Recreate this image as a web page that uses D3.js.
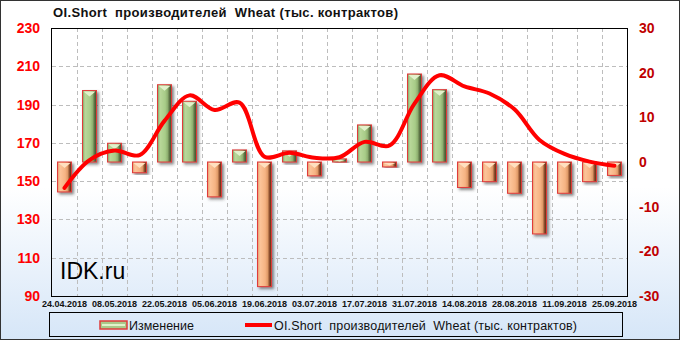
<!DOCTYPE html>
<html>
<head>
<meta charset="utf-8">
<script src="https://cdn.jsdelivr.net/npm/d3@7"></script>
<style>
  body { margin: 0; background: #fff; }
  text { white-space: pre; }
</style>
</head>
<body>
<div id="chart"></div>
<script>
// weekly dates, every other one gets a tick label
const dates = ['24.04.2018', '01.05.2018', '08.05.2018', '15.05.2018', '22.05.2018', '29.05.2018',
  '05.06.2018', '12.06.2018', '19.06.2018', '26.06.2018', '03.07.2018', '10.07.2018', '17.07.2018',
  '24.07.2018', '31.07.2018', '07.08.2018', '14.08.2018', '21.08.2018', '28.08.2018', '04.09.2018',
  '11.09.2018', '18.09.2018', '25.09.2018'];

// OI.Short producers, thousands of contracts (left axis)
const oiShort = [146.5, 161, 166, 163.6, 181.5, 194.8, 187.2, 191, 162.8, 164.8, 162.2, 162.5,
  170.5, 168.6, 190.5, 205.3, 199.5, 195.8, 187.5, 171.5, 164.2, 160.2, 158];

// weekly change (right axis)
const change = [-6.7, 16.0, 4.2, -2.4, 17.3, 13.6, -7.8, 2.7, -27.9, 2.5, -3.1, 0.7,
  8.3, -1.1, 19.7, 16.2, -5.7, -4.4, -7.0, -16.1, -7.0, -4.4, -3.0];

const leftTicks = [90, 110, 130, 150, 170, 190, 210, 230];
const rightTicks = [-30, -20, -10, 0, 10, 20, 30];

const title = 'OI.Short  производителей  Wheat (тыс. контрактов)';
const W = 681, H = 341;
const plot = {left: 52, right: 627, top: 28, bottom: 296};

const svg = d3.select('#chart').append('svg')
  .attr('width', W).attr('height', H);

const defs = svg.append('defs');

const bg = defs.append('linearGradient').attr('id', 'bg')
  .attr('x1', 0).attr('y1', 0).attr('x2', 0).attr('y2', 1);
bg.append('stop').attr('offset', '0%').attr('stop-color', '#ffffff');
bg.append('stop').attr('offset', '55%').attr('stop-color', '#ffffff');
bg.append('stop').attr('offset', '100%').attr('stop-color', '#d6e6f8');

function barGradient(id, stops) {
  const g = defs.append('linearGradient').attr('id', id)
    .attr('x1', 0).attr('y1', 0).attr('x2', 1).attr('y2', 0);
  stops.forEach(s => g.append('stop').attr('offset', s[0]).attr('stop-color', s[1]));
}
barGradient('gGreen', [['0%', '#7f9f5f'], ['18%', '#b9d89a'], ['55%', '#a8cc88'], ['72%', '#8fb070'], ['85%', '#5e7446'], ['100%', '#3a4a28']]);
barGradient('gOrange', [['0%', '#e39a68'], ['18%', '#fcc49a'], ['55%', '#f6b383'], ['72%', '#e09a68'], ['85%', '#8e5030'], ['100%', '#52260f']]);

const shadow = defs.append('filter').attr('id', 'shadow')
  .attr('x', '-50%').attr('y', '-20%').attr('width', '200%').attr('height', '140%');
shadow.append('feDropShadow').attr('dx', 2).attr('dy', 2).attr('stdDeviation', 1.8)
  .attr('flood-color', '#333').attr('flood-opacity', 0.6);

svg.append('rect').attr('x', 0.5).attr('y', 0.5).attr('width', 679).attr('height', 339)
  .attr('fill', 'url(#bg)').attr('stroke', '#333').attr('stroke-width', 1);

const x = d3.scaleBand().domain(dates)
  .range([plot.left, plot.right]).paddingInner(0.44).paddingOuter(0.22);
const yLeft = d3.scaleLinear().domain([90, 230]).range([plot.bottom, plot.top]);
const yRight = d3.scaleLinear().domain([-30, 30]).range([plot.bottom, plot.top]);

// grid
const grid = svg.append('g').attr('stroke', '#bdbdbd').attr('stroke-dasharray', '4,3');
grid.selectAll('line.h').data(leftTicks.slice(1, -1)).join('line')
  .attr('x1', plot.left).attr('x2', plot.right)
  .attr('y1', d => Math.round(yLeft(d)) + 0.5).attr('y2', d => Math.round(yLeft(d)) + 0.5);
grid.selectAll('line.v').data(dates.slice(1)).join('line')
  .attr('y1', plot.top).attr('y2', plot.bottom)
  .attr('x1', d => Math.round(x(d) + x.bandwidth() / 2 - x.step() / 2) + 0.5)
  .attr('x2', d => Math.round(x(d) + x.bandwidth() / 2 - x.step() / 2) + 0.5);

// bars
const bars = svg.append('g');
dates.forEach((d, i) => {
  const v = change[i];
  const bx = x(d), bw = x.bandwidth();
  const y0 = yRight(0), y1 = yRight(v);
  const top = Math.min(y0, y1), h = Math.abs(y1 - y0);
  const g = bars.append('g');
  g.append('rect').attr('x', bx).attr('y', top).attr('width', bw).attr('height', Math.max(h, 1))
    .attr('fill', v >= 0 ? 'url(#gGreen)' : 'url(#gOrange)')
    .attr('stroke', '#e03a3a').attr('stroke-width', 1)
    .attr('filter', 'url(#shadow)');
  // small bevel at the top
  const bh = Math.min(5, h / 2);
  g.append('path')
    .attr('d', `M${bx + 1},${top + 1}L${bx + bw - 1},${top + 1}L${bx + bw / 2},${top + 1 + bh}Z`)
    .attr('fill', v >= 0 ? '#e2f2cc' : '#ffe0c0');
});

// line
const line = d3.line()
  .x((d, i) => x(dates[i]) + x.bandwidth() / 2)
  .y(d => yLeft(d))
  .curve(d3.curveCatmullRom.alpha(0.5));
svg.append('path').datum(oiShort).attr('d', line)
  .attr('fill', 'none').attr('stroke', '#ff0000').attr('stroke-width', 4)
  .attr('stroke-linejoin', 'round').attr('stroke-linecap', 'round');

// plot frame
svg.append('rect').attr('x', plot.left - 0.5).attr('y', plot.top + 0.5)
  .attr('width', plot.right - plot.left + 1).attr('height', plot.bottom - plot.top)
  .attr('fill', 'none').attr('stroke', '#000').attr('stroke-width', 1);

// axes labels
svg.append('g').selectAll('text').data(leftTicks).join('text')
  .attr('x', 40).attr('y', d => yLeft(d) + 5)
  .attr('text-anchor', 'end')
  .attr('font-family', 'Liberation Sans, Arial, sans-serif').attr('font-weight', 'bold')
  .attr('font-size', 14).attr('fill', '#ff0000')
  .text(d => d);

svg.append('g').selectAll('text').data(rightTicks).join('text')
  .attr('x', 639).attr('y', d => yRight(d) + 5)
  .attr('font-family', 'Liberation Sans, Arial, sans-serif').attr('font-weight', 'bold')
  .attr('font-size', 14).attr('fill', '#c00000')
  .text(d => d);

svg.append('g').selectAll('text').data(dates.filter((d, i) => i % 2 === 0)).join('text')
  .attr('x', d => x(d) + x.bandwidth() / 2).attr('y', 307)
  .attr('text-anchor', 'middle')
  .attr('font-family', 'Liberation Sans, Arial, sans-serif').attr('font-weight', 'bold')
  .attr('font-size', 9).attr('fill', '#111')
  .text(d => d);

// title
svg.append('text').attr('x', 53).attr('y', 17)
  .attr('font-family', 'Liberation Sans, Arial, sans-serif').attr('font-weight', 'bold')
  .attr('font-size', 13).attr('fill', '#111')
  .attr('textLength', 345).attr('lengthAdjust', 'spacing')
  .text(title);

// watermark
svg.append('text').attr('x', 60).attr('y', 279)
  .attr('font-family', 'Liberation Sans, Arial, sans-serif')
  .attr('font-size', 23).attr('fill', '#000')
  .text('IDK.ru');

// legend
const legend = svg.append('g');
legend.append('rect').attr('x', 49.5).attr('y', 312.5).attr('width', 573).attr('height', 24)
  .attr('fill', 'none').attr('stroke', '#000');
legend.append('rect').attr('x', 100).attr('y', 321).attr('width', 27).attr('height', 8)
  .attr('fill', '#a9c98a').attr('stroke', '#e03a3a').attr('stroke-width', 1.5);
legend.append('rect').attr('x', 102).attr('y', 324).attr('width', 23).attr('height', 2)
  .attr('fill', '#e2f2cc');
legend.append('text').attr('x', 129).attr('y', 329.5)
  .attr('font-family', 'Liberation Sans, Arial, sans-serif').attr('font-size', 12.5).attr('fill', '#111')
  .text('Изменение');
legend.append('line').attr('x1', 245).attr('x2', 272).attr('y1', 325).attr('y2', 325)
  .attr('stroke', '#ff0000').attr('stroke-width', 4);
legend.append('text').attr('x', 274).attr('y', 329.5)
  .attr('font-family', 'Liberation Sans, Arial, sans-serif').attr('font-size', 12.5).attr('fill', '#111')
  .attr('textLength', 303).attr('lengthAdjust', 'spacing')
  .text(title);
</script>
</body>
</html>
